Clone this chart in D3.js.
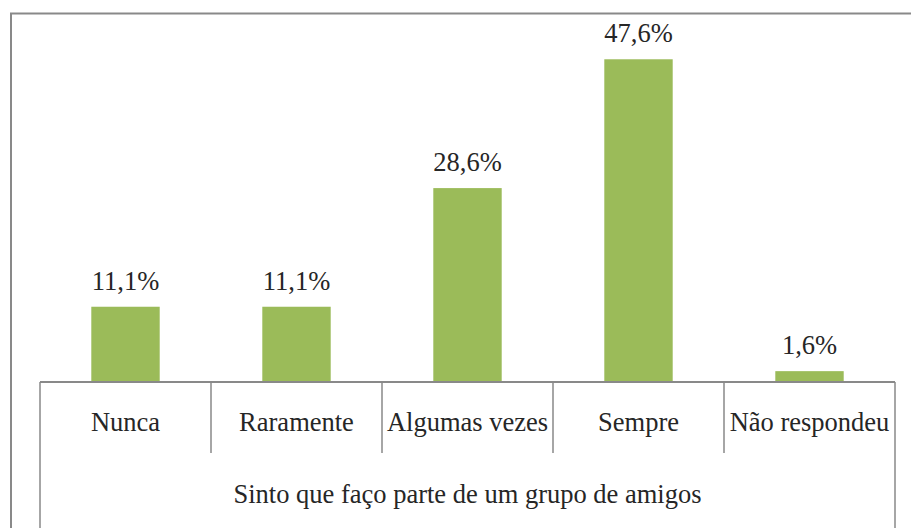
<!DOCTYPE html>
<html>
<head>
<meta charset="utf-8">
<script src="https://cdn.jsdelivr.net/npm/d3@7"></script>
<style>
  html, body { margin: 0; padding: 0; background: #fff; overflow: hidden; }
  svg text { fill: #262626; }
</style>
</head>
<body>
<svg id="chart" width="911" height="528"></svg>
<script>
// ── Data ──────────────────────────────────────────────────────────────────────
const categories = ['Nunca', 'Raramente', 'Algumas vezes', 'Sempre', 'Não respondeu'];
const values     = [11.1, 11.1, 28.6, 47.6, 1.6];
const groupLabel = 'Sinto que faço parte de um grupo de amigos';

// ── Config ────────────────────────────────────────────────────────────────────
const W = 911, H = 528;
const PLOT = { left: 40, right: 895, base: 382, top: 43 };
const BAR_COLOR  = '#9BBB59';
const LINE_COLOR = '#898989';
const FONT_SIZE  = 26.5;
const FONT       = "'Liberation Serif', 'DejaVu Serif', serif";

const svg = d3.select('#chart')
  .attr('font-family', FONT);

// outer chart frame (clipped by the window on right and bottom)
svg.append('rect')
  .attr('x', 11).attr('y', 13.5)
  .attr('width', W + 20).attr('height', H + 20)
  .attr('fill', 'none')
  .attr('stroke', LINE_COLOR)
  .attr('stroke-width', 2);

// ── Scales ────────────────────────────────────────────────────────────────────
const xCat = d3.scaleBand()
  .domain(categories)
  .range([PLOT.left, PLOT.right])
  .padding(0);

const xBar = d3.scaleBand()
  .domain(categories)
  .range([PLOT.left, PLOT.right])
  .paddingInner(0.6)
  .paddingOuter(0.3);

const y = d3.scaleLinear()
  .domain([0, 50])
  .range([PLOT.base, PLOT.top]);

// ── Bars ──────────────────────────────────────────────────────────────────────
svg.selectAll('.bar')
  .data(categories)
  .join('rect')
  .attr('class', 'bar')
  .attr('x', d => xBar(d))
  .attr('y', (d, i) => y(values[i]))
  .attr('width', xBar.bandwidth())
  .attr('height', (d, i) => y(0) - y(values[i]))
  .attr('fill', BAR_COLOR);

svg.selectAll('.value-label')
  .data(categories)
  .join('text')
  .attr('class', 'value-label')
  .attr('x', d => xBar(d) + xBar.bandwidth() / 2)
  .attr('y', (d, i) => y(values[i]) - 17)
  .attr('text-anchor', 'middle')
  .attr('font-family', FONT)
  .attr('font-size', FONT_SIZE)
  .text((d, i) => values[i].toFixed(1).replace('.', ',') + '%');

// ── Category axis (multi-level) ───────────────────────────────────────────────
svg.append('line')
  .attr('x1', PLOT.left).attr('x2', PLOT.right)
  .attr('y1', PLOT.base).attr('y2', PLOT.base)
  .attr('stroke', LINE_COLOR)
  .attr('stroke-width', 2);

const edges = categories.map(d => xCat(d)).concat([PLOT.right]);

svg.selectAll('.divider')
  .data(edges)
  .join('line')
  .attr('class', 'divider')
  .attr('x1', d => d).attr('x2', d => d)
  .attr('y1', PLOT.base)
  .attr('y2', (d, i) => (i === 0 || i === edges.length - 1) ? H + 5 : 453)
  .attr('stroke', LINE_COLOR)
  .attr('stroke-width', 1.5);

svg.selectAll('.cat-label')
  .data(categories)
  .join('text')
  .attr('class', 'cat-label')
  .attr('x', d => xCat(d) + xCat.bandwidth() / 2)
  .attr('y', 431)
  .attr('text-anchor', 'middle')
  .attr('font-family', FONT)
  .attr('font-size', FONT_SIZE)
  .text(d => d);

svg.append('text')
  .attr('x', (PLOT.left + PLOT.right) / 2)
  .attr('y', 503)
  .attr('text-anchor', 'middle')
  .attr('font-family', FONT)
  .attr('font-size', FONT_SIZE)
  .text(groupLabel);
</script>
</body>
</html>
